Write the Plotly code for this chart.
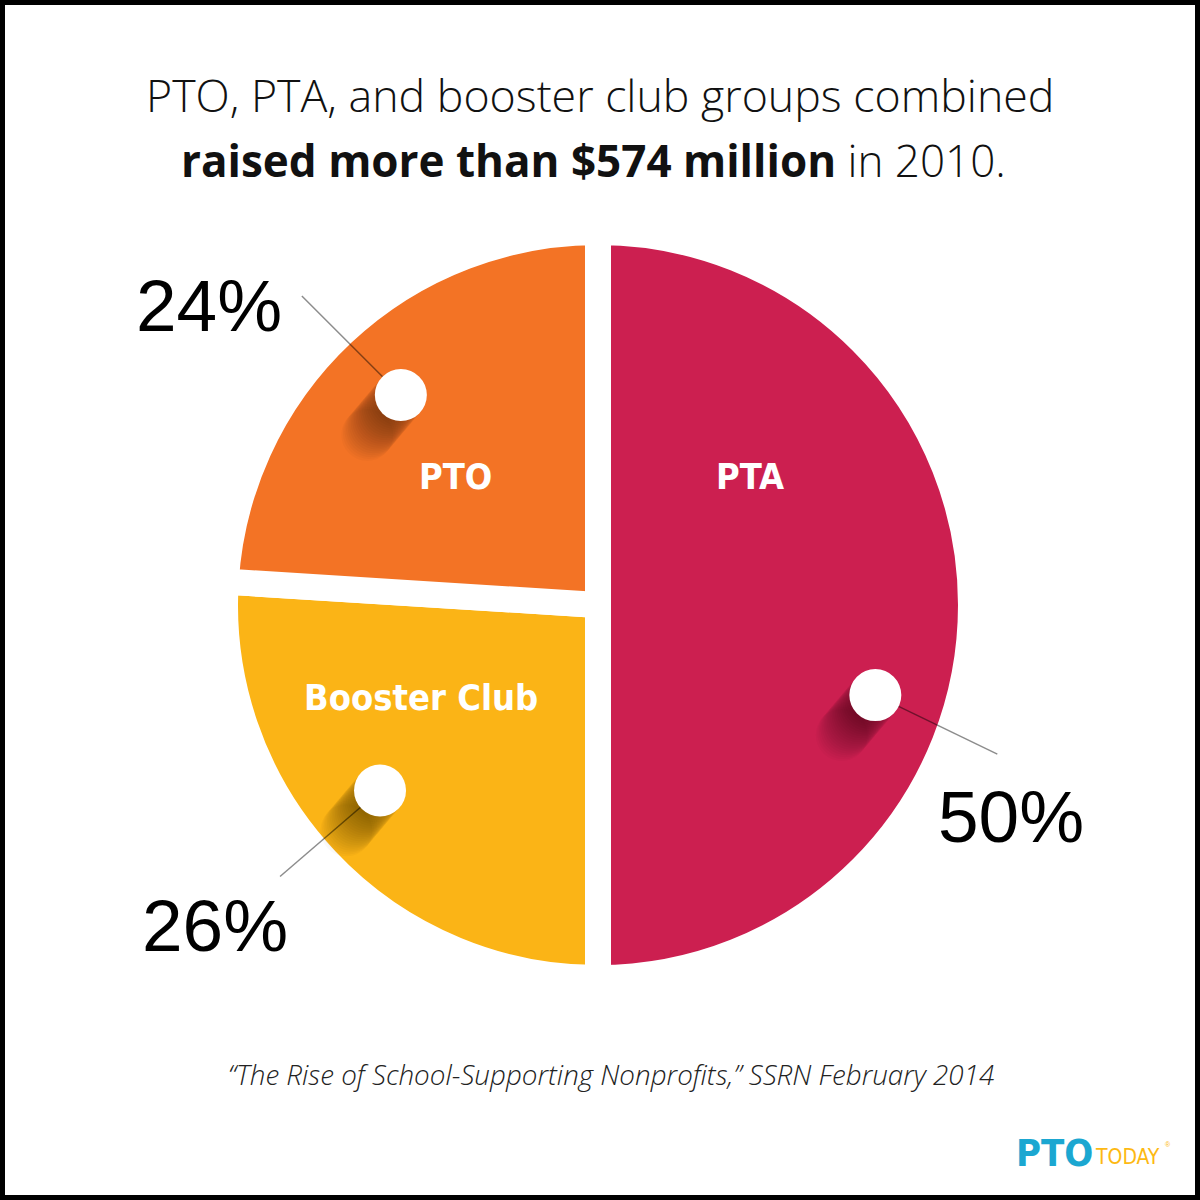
import math
import plotly.graph_objects as go

# ---- data ----
labels = ["PTA", "Booster Club", "PTO"]
values = [50, 26, 24]
pct_labels = ["50%", "26%", "24%"]
title_line1 = "PTO, PTA, and booster club groups combined"
title_line2_bold = "raised more than $574 million"
title_line2_rest = " in 2010."
source_text = "\u201cThe Rise of School-Supporting Nonprofits,\u201d SSRN February 2014"

# ---- style ----
colors = ["#CC1F50", "#FBB416", "#F37325"]
W = H = 1200
CX, CY = 598, 605          # pie centre (px)
R_VIS = 360                # visible radius
GAP = 26                   # white gap between slices
R = R_VIS + GAP / 2

dot_angle_frac = [0.6, 0.53, 0.5]      # where in the slice the dot sits
dot_radius_frac = [0.81, 0.795, 0.80]
line_end_off = [(122, 59), (-100, 86), (-99, -99)]
pct_text_off = [(136, 121), (-165, 135), (-192, -90)]
name_pos = [(750, 477), (421, 697), (455, 477)]
DOT_R = 26
COND = "DejaVu Sans Condensed, Roboto Condensed, Roboto"

def px(x):
    return x / W

def py(y):
    return 1 - y / H

fig = go.Figure(go.Pie(
    labels=labels, values=values, sort=False, direction="clockwise", rotation=0,
    marker=dict(colors=colors, line=dict(color="white", width=GAP)),
    textinfo="none", hoverinfo="skip", showlegend=False,
    domain=dict(x=[px(CX - R), px(CX + R)], y=[py(CY + R), py(CY - R)]),
))

shapes = []
annotations = []
total = sum(values)
start = 0.0
dots = []
for i, v in enumerate(values):
    span = 360 * v / total
    a = math.radians(start + dot_angle_frac[i] * span)
    r = dot_radius_frac[i] * R_VIS
    dx, dy = CX + r * math.sin(a), CY - r * math.cos(a)
    dots.append((dx, dy))
    start += span

# callout lines
for i, (dx, dy) in enumerate(dots):
    ex, ey = dx + line_end_off[i][0], dy + line_end_off[i][1]
    shapes.append(dict(type="line", xref="paper", yref="paper",
                       x0=px(dx), y0=py(dy), x1=px(ex), y1=py(ey),
                       line=dict(color="rgba(0,0,0,0.45)", width=1.5)))
# shadows
for i, (dx, dy) in enumerate(dots):
    for k in range(1, 22):
        ox, oy = dx - 1.6 * k, dy + 1.9 * k
        shapes.append(dict(type="circle", xref="paper", yref="paper",
                           x0=px(ox - DOT_R), x1=px(ox + DOT_R),
                           y0=py(oy + DOT_R), y1=py(oy - DOT_R),
                           fillcolor="rgba(0,0,0,0.022)", line=dict(width=0)))
# dots
for i, (dx, dy) in enumerate(dots):
    shapes.append(dict(type="circle", xref="paper", yref="paper",
                       x0=px(dx - DOT_R), x1=px(dx + DOT_R),
                       y0=py(dy + DOT_R), y1=py(dy - DOT_R),
                       fillcolor="white", line=dict(width=0)))
# frame
shapes.append(dict(type="rect", xref="paper", yref="paper", x0=0, y0=0, x1=1, y1=1,
                   line=dict(color="black", width=10)))

# percentages
for i, (dx, dy) in enumerate(dots):
    tx, ty = dx + pct_text_off[i][0], dy + pct_text_off[i][1]
    annotations.append(dict(text=pct_labels[i], x=px(tx), y=py(ty), xref="paper", yref="paper",
                            showarrow=False, xanchor="center", yanchor="middle",
                            font=dict(family="Liberation Sans, Arial", size=73, color="black")))
# slice names
for i, (nx, ny) in enumerate(name_pos):
    annotations.append(dict(text="<b>%s</b>" % labels[i], x=px(nx), y=py(ny), xref="paper", yref="paper",
                            showarrow=False, xanchor="center", yanchor="middle",
                            font=dict(family=COND, size=36, color="white")))
# title
annotations.append(dict(text=title_line1, x=px(600), y=py(95), xref="paper", yref="paper",
                        showarrow=False, xanchor="center", yanchor="middle",
                        font=dict(family="Open Sans", weight=300, size=44.7, color="#111")))
annotations.append(dict(text="<b>%s</b>%s" % (title_line2_bold, title_line2_rest),
                        x=px(593), y=py(160), xref="paper", yref="paper",
                        showarrow=False, xanchor="center", yanchor="middle",
                        font=dict(family="Open Sans", weight=300, size=44, color="#111")))
# source
annotations.append(dict(text="<i>%s</i>" % source_text, x=px(611), y=py(1074), xref="paper", yref="paper",
                        showarrow=False, xanchor="center", yanchor="middle",
                        font=dict(family="Open Sans", weight=300, size=27.8, color="#222")))
# logo
annotations.append(dict(text="<b>PTO</b>", x=px(1095), y=py(1153), xref="paper", yref="paper",
                        showarrow=False, xanchor="right", yanchor="middle",
                        font=dict(family=COND, size=38, color="#1BA7D1")))
annotations.append(dict(text="TODAY", x=px(1093), y=py(1157), xref="paper", yref="paper",
                        showarrow=False, xanchor="left", yanchor="middle",
                        font=dict(family=COND, size=21, color="#FDB913")))
annotations.append(dict(text="\u00ae", x=px(1168), y=py(1144), xref="paper", yref="paper",
                        showarrow=False, xanchor="center", yanchor="middle",
                        font=dict(family="Liberation Sans", size=7, color="#FDB913")))

fig.update_layout(width=W, height=H, margin=dict(l=0, r=0, t=0, b=0),
                  paper_bgcolor="white", plot_bgcolor="white",
                  shapes=shapes, annotations=annotations)
fig.write_html("out.html", config={"displayModeBar": False},
               post_script="document.body.style.margin='0';document.body.style.overflow='hidden';")
